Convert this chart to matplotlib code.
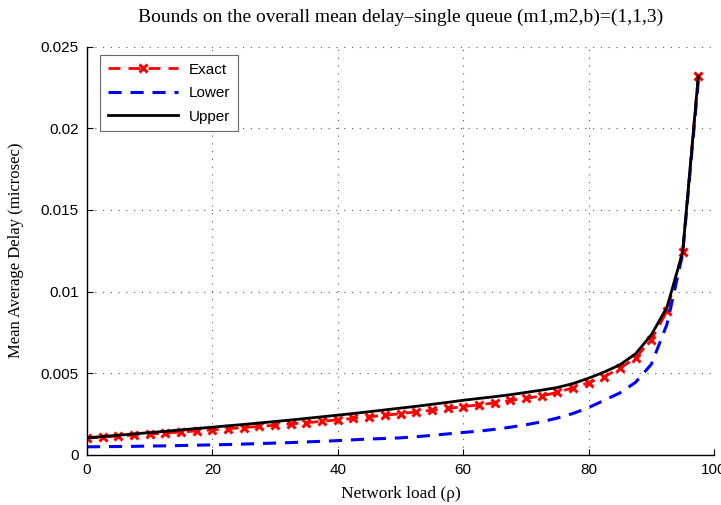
import matplotlib
matplotlib.use("Agg")
import matplotlib.pyplot as plt

# network load (percent) at which the delay was evaluated
load = [0, 2.5, 5, 7.5, 10, 12.5, 15, 17.5, 20, 22.5,
        25, 27.5, 30, 32.5, 35, 37.5, 40, 42.5, 45, 47.5,
        50, 52.5, 55, 57.5, 60, 62.5, 65, 67.5, 70, 72.5,
        75, 77.5, 80, 82.5, 85, 87.5, 90, 92.5, 95, 97.5]

exact = [0.00104, 0.00110, 0.00116, 0.00122, 0.00128, 0.00134, 0.00141, 0.00147, 0.00154, 0.00161,
         0.00168, 0.00175, 0.00182, 0.00190, 0.00198, 0.00206, 0.00215, 0.00224, 0.00234, 0.00243,
         0.00253, 0.00264, 0.00274, 0.00285, 0.00296, 0.00307, 0.00319, 0.00334, 0.00346, 0.00362,
         0.00383, 0.00412, 0.00442, 0.00480, 0.00530, 0.00595, 0.00705, 0.00880, 0.01245, 0.02320]

lower = [0.00050, 0.00051, 0.00052, 0.00053, 0.00055, 0.00056, 0.00058, 0.00060, 0.00062, 0.00064,
         0.00067, 0.00070, 0.00073, 0.00076, 0.00080, 0.00084, 0.00088, 0.00093, 0.00098, 0.00101,
         0.00105, 0.00112, 0.00120, 0.00129, 0.00138, 0.00146, 0.00157, 0.00170, 0.00185, 0.00203,
         0.00226, 0.00254, 0.00290, 0.00335, 0.00380, 0.00445, 0.00555, 0.00800, 0.01230, 0.02290]

upper = [0.00105, 0.00113, 0.00121, 0.00129, 0.00137, 0.00145, 0.00154, 0.00162, 0.00170, 0.00179,
         0.00187, 0.00196, 0.00205, 0.00214, 0.00224, 0.00234, 0.00244, 0.00254, 0.00265, 0.00276,
         0.00287, 0.00298, 0.00310, 0.00322, 0.00335, 0.00346, 0.00357, 0.00369, 0.00383, 0.00397,
         0.00413, 0.00437, 0.00470, 0.00508, 0.00552, 0.00620, 0.00735, 0.00905, 0.01240, 0.02320]

xticks = [0, 20, 40, 60, 80, 100]
yticks = [0, 0.005, 0.01, 0.015, 0.02, 0.025]
ytick_labels = ["0", "0.005", "0.01", "0.015", "0.02", "0.025"]

SERIF = ["Liberation Serif", "DejaVu Serif"]
SANS = ["Liberation Sans", "DejaVu Sans"]

plt.rcParams["font.family"] = SANS

fig = plt.figure(figsize=(7.21, 5.05), dpi=100)
ax = fig.add_axes([87 / 721, 1 - 455 / 505, (714 - 87) / 721, (455 - 46.5) / 505])

ax.plot(load, exact, color="red", linestyle=(0, (4.3, 2.9)), linewidth=2,
        marker="x", markersize=5.5, markeredgewidth=2.2, label="Exact")
ax.plot(load, lower, color="blue", linestyle=(0, (4.3, 2.9)), linewidth=2.2,
        label="Lower")
ax.plot(load, upper, color="black", linewidth=2, label="Upper")

ax.set_xlim(0, 100)
ax.set_ylim(0, 0.025)
ax.set_xticks(xticks)
ax.set_yticks(yticks)
ax.set_yticklabels(ytick_labels)
ax.tick_params(direction="in", length=4, width=0.8, labelsize=11, pad=6)

ax.grid(True, color="0.35", linestyle=(0, (1, 6)), linewidth=0.8)
ax.spines["top"].set_visible(False)
ax.spines["right"].set_visible(False)
ax.spines["left"].set_linewidth(1)
ax.spines["bottom"].set_linewidth(1)

ax.set_title("Bounds on the overall mean delay\u2013single queue (m1,m2,b)=(1,1,3)",
             family=SERIF, fontsize=14, pad=18)
ax.set_xlabel("Network load (\u03c1)", family=SERIF, fontsize=12.5, labelpad=6)
ax.set_ylabel("Mean Average Delay (microsec)", family=SERIF, fontsize=12, labelpad=12)

leg = ax.legend(loc="upper left", bbox_to_anchor=(13 / 627, 1 - 8.5 / 408.5),
                borderaxespad=0, fontsize=11, handlelength=4.6, handletextpad=0.7,
                borderpad=0.5, labelspacing=0.62, fancybox=False, framealpha=1)
leg.get_frame().set_edgecolor("0.4")
leg.get_frame().set_linewidth(0.8)

fig.savefig("out.png", dpi=100)
plt.close(fig)
